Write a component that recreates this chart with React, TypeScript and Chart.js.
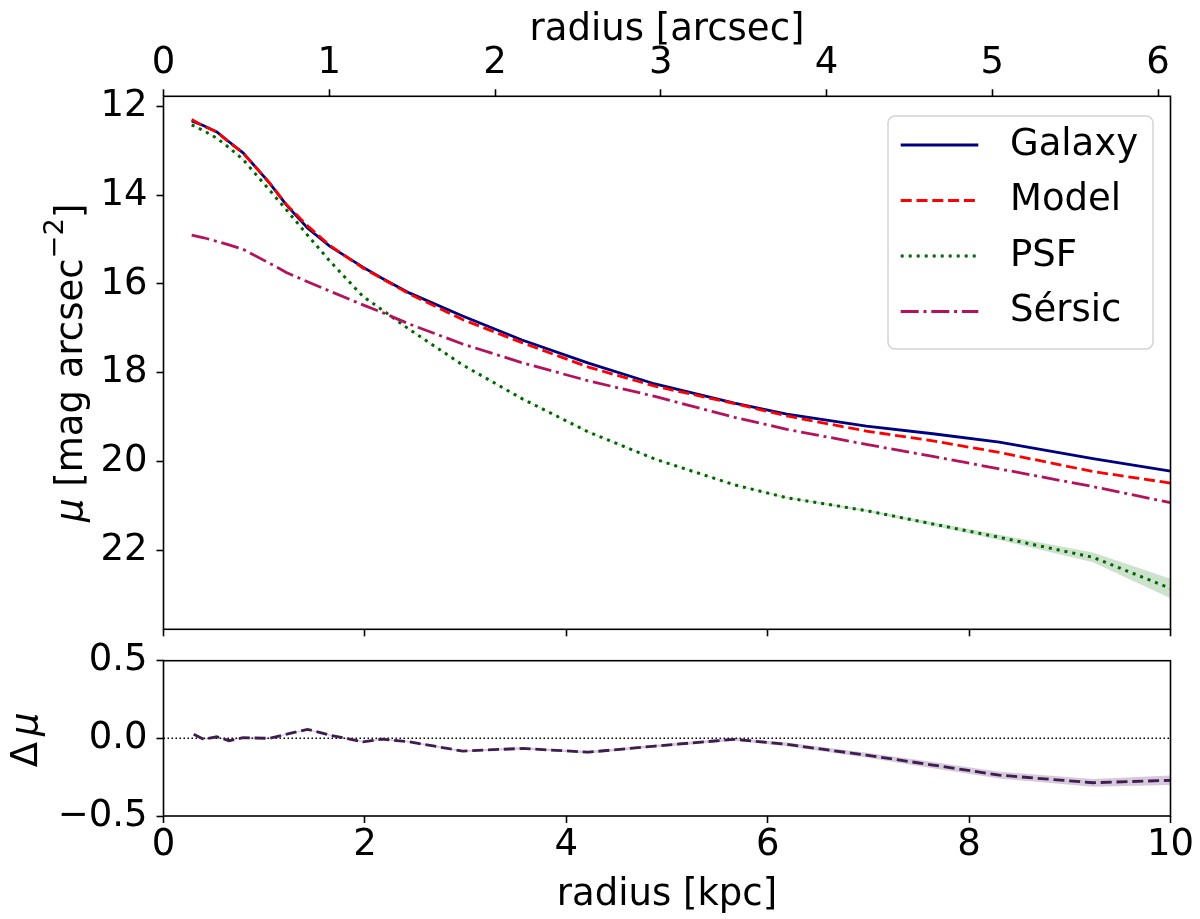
import React, { useEffect, useRef } from "react";
import { Chart, registerables } from "chart.js";

Chart.register(...registerables);

// ---------------- data ----------------
const radiusKpc = [0.28, 0.40, 0.53, 0.65, 0.79, 1.05, 1.22, 1.43, 1.65, 1.98, 2.17, 2.44, 2.97, 3.56, 4.22, 4.88, 5.67, 6.19, 6.98, 7.64, 8.30, 9.23, 10.0];
const galaxyMu = [12.33, 12.44, 12.58, 12.80, 13.05, 13.72, 14.22, 14.74, 15.15, 15.62, 15.87, 16.20, 16.72, 17.26, 17.78, 18.25, 18.68, 18.93, 19.20, 19.37, 19.56, 19.93, 20.21];
const modelMu = [12.30, 12.45, 12.58, 12.81, 13.05, 13.72, 14.21, 14.69, 15.13, 15.64, 15.88, 16.22, 16.80, 17.32, 17.87, 18.30, 18.69, 18.97, 19.31, 19.53, 19.79, 20.22, 20.48];
const psfMu = [12.42, 12.55, 12.72, 12.93, 13.20, 13.88, 14.33, 14.90, 15.48, 16.28, 16.58, 17.02, 17.82, 18.58, 19.33, 19.94, 20.52, 20.81, 21.10, 21.40, 21.70, 22.15, 22.85];
const psfErr = [0.01, 0.01, 0.01, 0.01, 0.01, 0.01, 0.01, 0.01, 0.01, 0.01, 0.01, 0.01, 0.01, 0.01, 0.01, 0.01, 0.01, 0.015, 0.025, 0.04, 0.06, 0.11, 0.22];
const sersicMu = [14.90, 14.96, 15.04, 15.12, 15.22, 15.53, 15.74, 15.95, 16.16, 16.47, 16.64, 16.90, 17.35, 17.77, 18.18, 18.53, 19.00, 19.27, 19.61, 19.88, 20.16, 20.56, 20.92];

const residualKpc = [0.30, 0.40, 0.53, 0.65, 0.79, 1.05, 1.43, 1.65, 1.98, 2.17, 2.44, 2.97, 3.56, 4.22, 4.88, 5.67, 6.19, 6.98, 7.64, 8.30, 9.23, 10.0];
const residualMu = [0.026, -0.006, 0.01, -0.015, 0.004, 0.0, 0.058, 0.021, -0.022, -0.005, -0.022, -0.082, -0.065, -0.089, -0.05, -0.006, -0.039, -0.108, -0.172, -0.237, -0.286, -0.27];
const residualErr = [0.004, 0.004, 0.004, 0.004, 0.004, 0.004, 0.004, 0.004, 0.005, 0.005, 0.005, 0.006, 0.007, 0.008, 0.009, 0.01, 0.012, 0.015, 0.02, 0.022, 0.025, 0.03];

const legendLabels = ["Galaxy", "Model", "PSF", "Sérsic"];
const kpcTicks = [0, 2, 4, 6, 8, 10];
const arcsecTicks = [0, 1, 2, 3, 4, 5, 6];
const muTicks = [12, 14, 16, 18, 20, 22];
const dmuTicks = [-0.5, 0, 0.5];
const kpcRange = [0, 10];
const muRange = [11.777, 23.77];
const dmuRange = [-0.5, 0.5];
const kpcPerArcsec = 1.646;

// ---------------- styling ----------------
const FONT = '"DejaVu Sans", sans-serif';
const FS = 37;
const W = 1200;
const H = 919;
const AREA_LEFT = 163.5;
const AREA_RIGHT = 1170.5;
const TOP_TOP = 96.3;
const TOP_BOTTOM = 629.3;
const BOT_TOP = 660.7;
const BOT_BOTTOM = 816;

const pts = (xs: number[], ys: number[]) => xs.map((x, i) => ({ x, y: ys[i] }));

const framePlugin = {
  id: "frame",
  afterDatasetsDraw(chart: any) {
    const { ctx, chartArea } = chart;
    const { left, top, right, bottom } = chartArea;
    ctx.save();
    ctx.strokeStyle = "#000";
    ctx.lineWidth = 1.6;
    ctx.strokeRect(left, top, right - left, bottom - top);
    ctx.restore();
  },
};

// rotated y-axis title with mixed upright / italic / superscript pieces
type Seg = { text: string; italic?: boolean; scale?: number; rise?: number; gap?: number };
const richTitlePlugin = {
  id: "richTitle",
  afterDraw(chart: any, _args: any, opts: any) {
    const segs: Seg[] = opts.segments;
    if (!segs) return;
    const { ctx, chartArea } = chart;
    const fontOf = (s: Seg) => `${s.italic ? "italic " : ""}${FS * (s.scale || 1)}px ${FONT}`;
    const widths = segs.map((s) => {
      ctx.font = fontOf(s);
      return s.gap ? s.gap : ctx.measureText(s.text).width;
    });
    const total = widths.reduce((a: number, b: number) => a + b, 0);
    const cy = (chartArea.top + chartArea.bottom) / 2 + (opts.shift || 0);
    ctx.save();
    ctx.translate(opts.baselineX, cy);
    ctx.rotate(-Math.PI / 2);
    ctx.fillStyle = "#000";
    ctx.textBaseline = "alphabetic";
    ctx.textAlign = "left";
    let x = -total / 2;
    segs.forEach((s, i) => {
      if (!s.gap) {
        ctx.font = fontOf(s);
        ctx.fillText(s.text, x, -(s.rise || 0) * FS);
      }
      x += widths[i];
    });
    ctx.restore();
  },
};

const legendPlugin = {
  id: "boxLegend",
  afterDraw(chart: any) {
    const { ctx, chartArea } = chart;
    const items = chart.data.datasets.filter((d: any) => d.label);
    const w = 265;
    const h = 233;
    const x = chartArea.right - 17.5 - w;
    const y = chartArea.top + 19.7;
    ctx.save();
    ctx.beginPath();
    (ctx as any).roundRect(x, y, w, h, 7);
    ctx.fillStyle = "rgba(255,255,255,0.8)";
    ctx.fill();
    ctx.strokeStyle = "#d4d4d4";
    ctx.lineWidth = 1.5;
    ctx.stroke();
    items.forEach((d: any, i: number) => {
      const ry = y + 29 + i * 55.5;
      ctx.beginPath();
      ctx.strokeStyle = d.borderColor;
      ctx.lineWidth = d.borderWidth;
      ctx.setLineDash(d.borderDash || []);
      ctx.moveTo(x + 12.7, ry);
      ctx.lineTo(x + 90.3, ry);
      ctx.stroke();
      ctx.setLineDash([]);
      ctx.fillStyle = "#000";
      ctx.font = `${FS}px ${FONT}`;
      ctx.textBaseline = "middle";
      ctx.textAlign = "left";
      ctx.fillText(d.label, x + 122, ry);
    });
    ctx.restore();
  },
};

const tickGrid = {
  display: true,
  drawOnChartArea: false,
  drawTicks: true,
  tickLength: 7,
  tickWidth: 1.6,
  tickColor: "#000",
};

const fixTicks = (vals: number[]) => (scale: any) => {
  scale.ticks = vals.map((value) => ({ value }));
};

const titleFont = { family: FONT, size: FS };
const tickFont = { family: FONT, size: FS };

export default function App() {
  const topRef = useRef<HTMLCanvasElement>(null);
  const botRef = useRef<HTMLCanvasElement>(null);

  useEffect(() => {
    const topChart = new Chart(topRef.current as HTMLCanvasElement, {
      type: "line",
      data: {
        datasets: [
          {
            label: legendLabels[0],
            data: pts(radiusKpc, galaxyMu),
            borderColor: "#000080",
            borderWidth: 2.8,
            borderDash: [],
            pointRadius: 0,
            tension: 0,
            fill: false,
            order: 4,
          },
          {
            label: legendLabels[1],
            data: pts(radiusKpc, modelMu),
            borderColor: "#ff0000",
            borderWidth: 2.8,
            borderDash: [11, 4.8],
            pointRadius: 0,
            tension: 0,
            fill: false,
            order: 3,
          },
          {
            label: legendLabels[2],
            data: pts(radiusKpc, psfMu),
            borderColor: "#006400",
            borderWidth: 3,
            borderDash: [3, 5],
            pointRadius: 0,
            tension: 0,
            fill: false,
            order: 2,
          },
          {
            label: legendLabels[3],
            data: pts(radiusKpc, sersicMu),
            borderColor: "#b5125e",
            borderWidth: 2.8,
            borderDash: [18, 4.8, 3, 4.8],
            pointRadius: 0,
            tension: 0,
            fill: false,
            order: 1,
          },
          {
            label: "",
            data: pts(radiusKpc, psfMu.map((v, i) => v - psfErr[i])),
            borderWidth: 0,
            borderColor: "rgba(0,0,0,0)",
            backgroundColor: "rgba(0,110,0,0.2)",
            pointRadius: 0,
            tension: 0,
            fill: "+1",
            order: 10,
          },
          {
            label: "",
            data: pts(radiusKpc, psfMu.map((v, i) => v + psfErr[i])),
            borderWidth: 0,
            borderColor: "rgba(0,0,0,0)",
            pointRadius: 0,
            tension: 0,
            fill: false,
            order: 11,
          },
        ],
      },
      options: {
        responsive: false,
        animation: false,
        devicePixelRatio: 1,
        layout: { padding: { left: 0, right: W - AREA_RIGHT, top: 0, bottom: 0 } },
        plugins: {
          legend: { display: false },
          tooltip: { enabled: false },
          richTitle: {
            baselineX: 81.5,
            shift: 0,
            segments: [
              { text: "μ", italic: true },
              { text: " [mag arcsec" },
              { text: "\u22122", scale: 0.74, rise: 0.5 },
              { text: "]" },
            ],
          },
        },
        scales: {
          x: {
            type: "linear",
            position: "bottom",
            min: kpcRange[0],
            max: kpcRange[1],
            afterBuildTicks: fixTicks(kpcTicks),
            afterFit: (s: any) => {
              s.height = H - TOP_BOTTOM;
            },
            ticks: { display: false },
            grid: tickGrid,
            border: { display: false },
          },
          x2: {
            type: "linear",
            position: "top",
            min: 0,
            max: kpcRange[1] / kpcPerArcsec,
            afterBuildTicks: fixTicks(arcsecTicks),
            afterFit: (s: any) => {
              s.height = TOP_TOP;
            },
            ticks: { color: "#000", font: tickFont, padding: 3.8, maxRotation: 0, callback: (v: any) => String(v) },
            grid: tickGrid,
            border: { display: false },
            title: { display: true, text: "radius [arcsec]", color: "#000", font: titleFont, padding: { top: 7.8, bottom: 0 } },
          },
          y: {
            type: "linear",
            position: "left",
            reverse: true,
            min: muRange[0],
            max: muRange[1],
            afterBuildTicks: fixTicks(muTicks),
            afterFit: (s: any) => {
              s.width = AREA_LEFT;
            },
            ticks: { color: "#000", font: tickFont, padding: 9, callback: (v: any) => String(v) },
            grid: tickGrid,
            border: { display: false },
            title: { display: false },
          },
        },
      },
      plugins: [framePlugin, legendPlugin, richTitlePlugin],
    } as any);

    const botChart = new Chart(botRef.current as HTMLCanvasElement, {
      type: "line",
      data: {
        datasets: [
          {
            label: "",
            data: pts(residualKpc, residualMu),
            borderColor: "#3f1d4f",
            borderWidth: 2.8,
            borderDash: [11, 4.8],
            pointRadius: 0,
            tension: 0,
            fill: false,
            order: 1,
          },
          {
            label: "",
            data: pts(kpcRange, [0, 0]),
            borderColor: "#000",
            borderWidth: 1.5,
            borderDash: [1.5, 2.5],
            pointRadius: 0,
            tension: 0,
            fill: false,
            order: 2,
          },
          {
            label: "",
            data: pts(residualKpc, residualMu.map((v, i) => v + residualErr[i])),
            borderWidth: 0,
            borderColor: "rgba(0,0,0,0)",
            backgroundColor: "rgba(110,60,130,0.28)",
            pointRadius: 0,
            tension: 0,
            fill: "+1",
            order: 10,
          },
          {
            label: "",
            data: pts(residualKpc, residualMu.map((v, i) => v - residualErr[i])),
            borderWidth: 0,
            borderColor: "rgba(0,0,0,0)",
            pointRadius: 0,
            tension: 0,
            fill: false,
            order: 11,
          },
        ],
      },
      options: {
        responsive: false,
        animation: false,
        devicePixelRatio: 1,
        layout: { padding: { left: 0, right: W - AREA_RIGHT, top: BOT_TOP, bottom: 0 } },
        plugins: {
          legend: { display: false },
          tooltip: { enabled: false },
          richTitle: {
            baselineX: 37,
            shift: 1.5,
            segments: [{ text: "Δ" }, { text: "", gap: 6 }, { text: "μ", italic: true }],
          },
        },
        scales: {
          x: {
            type: "linear",
            position: "bottom",
            min: kpcRange[0],
            max: kpcRange[1],
            afterBuildTicks: fixTicks(kpcTicks),
            afterFit: (s: any) => {
              s.height = H - BOT_BOTTOM;
            },
            ticks: { color: "#000", font: tickFont, padding: 0, maxRotation: 0, callback: (v: any) => String(v) },
            grid: tickGrid,
            border: { display: false },
            title: { display: true, text: "radius [kpc]", color: "#000", font: titleFont, padding: { top: 0, bottom: 1.8 } },
          },
          y: {
            type: "linear",
            position: "left",
            min: dmuRange[0],
            max: dmuRange[1],
            afterBuildTicks: fixTicks(dmuTicks),
            afterFit: (s: any) => {
              s.width = AREA_LEFT;
            },
            ticks: {
              color: "#000",
              font: tickFont,
              padding: 9,
              callback: (v: any) => (v < 0 ? "\u2212" : "") + Math.abs(v).toFixed(1),
            },
            grid: tickGrid,
            border: { display: false },
            title: { display: false },
          },
        },
      },
      plugins: [framePlugin, richTitlePlugin],
    } as any);

    return () => {
      topChart.destroy();
      botChart.destroy();
    };
  }, []);

  const canvasStyle: React.CSSProperties = { position: "absolute", left: 0, top: 0, width: W, height: H };
  return (
    <div style={{ position: "absolute", left: 0, top: 0, width: W, height: H, background: "#fff", overflow: "hidden" }}>
      <canvas ref={topRef} width={W} height={H} style={canvasStyle} />
      <canvas ref={botRef} width={W} height={H} style={canvasStyle} />
    </div>
  );
}
